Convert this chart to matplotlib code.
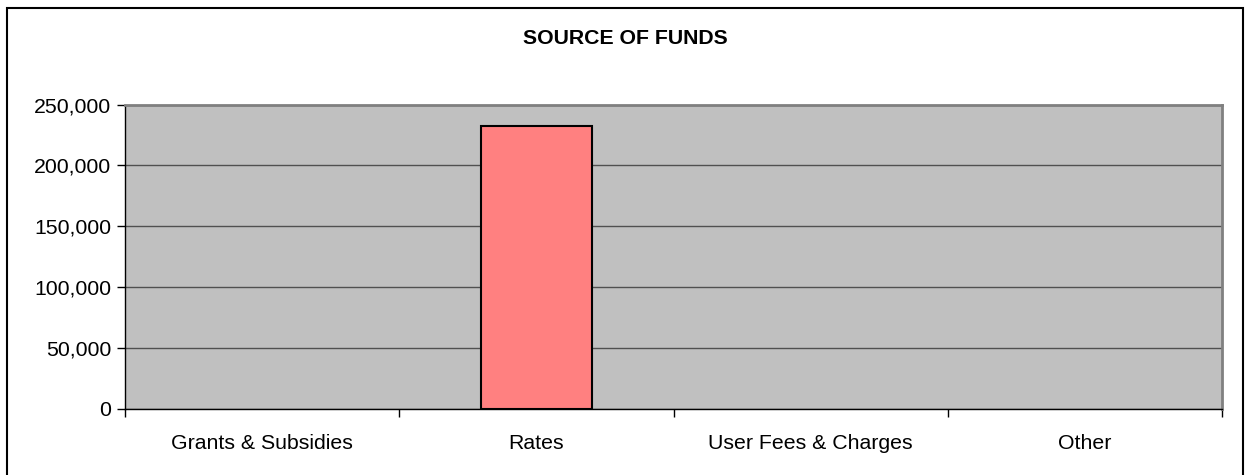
import matplotlib.pyplot as plt
from matplotlib.patches import Rectangle
from matplotlib.ticker import FuncFormatter

plt.rcParams['font.family'] = ['Liberation Sans', 'DejaVu Sans']

categories = ['Grants & Subsidies', 'Rates', 'User Fees & Charges', 'Other']
values = [0, 232500, 0, 0]
yticks = [0, 50000, 100000, 150000, 200000, 250000]

fig = plt.figure(figsize=(12.49, 4.75), dpi=100)
ax = fig.add_axes([125 / 1249, 66 / 475, 1097 / 1249, 304.5 / 475])

# outer chart border
fig.patches.append(Rectangle((7 / 1249, -0.05), 1236 / 1249, 1.05 - 8 / 475,
                             transform=fig.transFigure, fill=False,
                             edgecolor='black', linewidth=1.5))

ax.set_facecolor('#c0c0c0')
x = range(len(categories))
edges = ['black' if v > 0 else 'none' for v in values]
ax.bar(x, values, width=0.405, color='#ff8080', edgecolor=edges, linewidth=1.5, zorder=3)

ax.set_xlim(-0.5, len(categories) - 0.5)
ax.set_ylim(0, 250000)
ax.set_yticks(yticks)
ax.yaxis.set_major_formatter(FuncFormatter(lambda v, p: f'{int(v):,}'))
ax.grid(axis='y', color='#505050', linewidth=1, zorder=1)

ax.set_xticks([i - 0.5 for i in range(len(categories) + 1)], minor=False)
ax.set_xticklabels([])
ax.set_xticks(list(x), minor=True)
ax.set_xticklabels(categories, minor=True, fontsize=15.3)
ax.tick_params(axis='x', which='minor', length=0, pad=18)
ax.tick_params(axis='x', which='major', length=6, width=1, color='black', direction='out')
ax.tick_params(axis='y', length=6, width=1, labelsize=15.3, pad=4)

for side in ['top', 'right']:
    ax.spines[side].set_color('#808080')
    ax.spines[side].set_linewidth(2)
for side in ['left', 'bottom']:
    ax.spines[side].set_color('black')
    ax.spines[side].set_linewidth(1)

fig.text(625 / 1249, 1 - 38 / 475, 'SOURCE OF FUNDS', ha='center', va='center',
         fontsize=15.3, fontweight='bold')

fig.savefig('out.png', dpi=100)
